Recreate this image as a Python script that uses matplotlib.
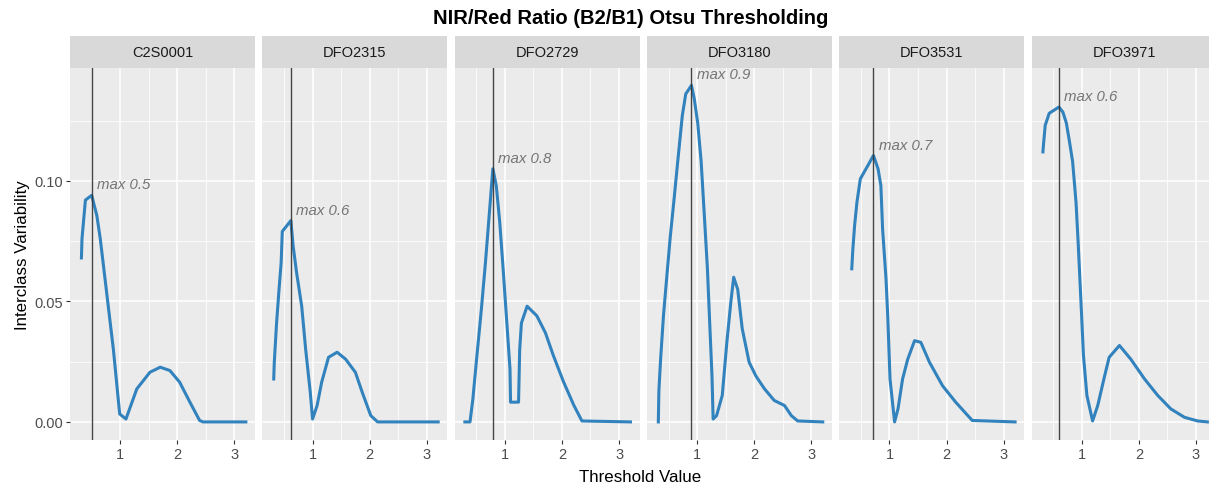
import matplotlib
matplotlib.use('Agg')
import matplotlib.pyplot as plt
from matplotlib.ticker import FixedLocator

plt.rcParams['font.family'] = ['Liberation Sans', 'DejaVu Sans']

sites = ["C2S0001", "DFO2315", "DFO2729", "DFO3180", "DFO3531", "DFO3971"]
thresholds = [0.50, 0.62, 0.79, 0.90, 0.72, 0.60]

x_c2s0001 = [0.32, 0.33, 0.36, 0.39, 0.50, 0.59, 0.65, 0.77, 0.88, 0.99, 1.10, 1.29, 1.52,
             1.70, 1.87, 2.04, 2.22, 2.39, 2.45, 3.20]
y_c2s0001 = [0.068, 0.076, 0.084, 0.092, 0.094, 0.0856, 0.076, 0.052, 0.030, 0.0033, 0.0012,
             0.0137, 0.0206, 0.0227, 0.0213, 0.0165, 0.0082, 0.0006, 0.0, 0.0]

x_dfo2315 = [0.32, 0.33, 0.37, 0.41, 0.45, 0.47, 0.62, 0.66, 0.72, 0.81, 0.88, 0.96, 1.00,
             1.08, 1.16, 1.28, 1.43, 1.58, 1.75, 1.87, 2.02, 2.14, 3.20]
y_dfo2315 = [0.0178, 0.0248, 0.041, 0.054, 0.066, 0.079, 0.0835, 0.073, 0.062, 0.048, 0.030,
             0.0123, 0.0012, 0.0068, 0.0165, 0.0268, 0.0289, 0.026, 0.0206, 0.0123, 0.0026,
             0.0, 0.0]

x_dfo2729 = [0.30, 0.39, 0.44, 0.50, 0.59, 0.66, 0.74, 0.79, 0.85, 0.91, 0.97, 1.03, 1.09,
             1.10, 1.24, 1.26, 1.29, 1.39, 1.56, 1.71, 1.85, 2.03, 2.21, 2.35, 3.20]
y_dfo2729 = [0.0, 0.0, 0.0095, 0.0248, 0.047, 0.066, 0.090, 0.105, 0.098, 0.083, 0.0635,
             0.0427, 0.022, 0.0082, 0.0082, 0.030, 0.041, 0.048, 0.044, 0.037, 0.0275,
             0.0165, 0.0068, 0.0004, 0.0]

x_dfo3180 = [0.32, 0.33, 0.36, 0.41, 0.47, 0.53, 0.59, 0.66, 0.74, 0.80, 0.90, 0.95, 1.01,
             1.07, 1.12, 1.18, 1.22, 1.26, 1.28, 1.34, 1.44, 1.52, 1.59, 1.64, 1.71, 1.79,
             1.91, 2.03, 2.18, 2.35, 2.53, 2.65, 2.76, 3.20]
y_dfo3180 = [0.0, 0.013, 0.026, 0.044, 0.0607, 0.077, 0.091, 0.108, 0.127, 0.136, 0.1396,
             0.134, 0.124, 0.108, 0.088, 0.0635, 0.041, 0.019, 0.0012, 0.0026, 0.011, 0.033,
             0.0497, 0.060, 0.055, 0.0386, 0.0248, 0.019, 0.0137, 0.0089, 0.0068, 0.0026,
             0.0004, 0.0]

x_dfo3531 = [0.34, 0.36, 0.39, 0.43, 0.49, 0.59, 0.72, 0.80, 0.85, 0.88, 0.94, 0.97, 1.01,
             1.09, 1.15, 1.23, 1.32, 1.44, 1.55, 1.70, 1.93, 2.16, 2.45, 3.20]
y_dfo3531 = [0.0635, 0.072, 0.0815, 0.091, 0.1008, 0.105, 0.1105, 0.105, 0.098, 0.080,
             0.0593, 0.044, 0.0178, 0.0, 0.0054, 0.0178, 0.026, 0.0337, 0.033, 0.0248,
             0.015, 0.0082, 0.0006, 0.0]

x_dfo3971 = [0.32, 0.33, 0.36, 0.43, 0.60, 0.67, 0.73, 0.78, 0.84, 0.90, 0.94, 0.99, 1.03,
             1.09, 1.19, 1.28, 1.40, 1.48, 1.66, 1.86, 2.10, 2.33, 2.56, 2.80, 3.03, 3.20]
y_dfo3971 = [0.112, 0.115, 0.123, 0.128, 0.1306, 0.1285, 0.124, 0.117, 0.108, 0.091, 0.073,
             0.048, 0.0275, 0.011, 0.0004, 0.0068, 0.019, 0.0268, 0.0317, 0.026, 0.0178,
             0.011, 0.0054, 0.0019, 0.0004, 0.0]

series_x = [x_c2s0001, x_dfo2315, x_dfo2729, x_dfo3180, x_dfo3531, x_dfo3971]
series_y = [y_c2s0001, y_dfo2315, y_dfo2729, y_dfo3180, y_dfo3531, y_dfo3971]

x_ticks = [1, 2, 3]
y_ticks = [0.00, 0.05, 0.10]
y_tick_labels = ["0.00", "0.05", "0.10"]

W, H = 1209, 489
fig = plt.figure(figsize=(W / 100, H / 100), dpi=100)

panel_left0 = 70.0
panel_pitch = 192.3
panel_w = 185.0
panel_top = 68.5
panel_bottom = 441.0
strip_top = 36.7

line_color = '#3182BD'
tick_col = '#4D4D4D'

for i, site in enumerate(sites):
    left = panel_left0 + i * panel_pitch
    ax = fig.add_axes([left / W, 1 - panel_bottom / H, panel_w / W, (panel_bottom - panel_top) / H])
    ax.set_facecolor('#EBEBEB')
    for s in ax.spines.values():
        s.set_visible(False)
    ax.set_xlim(0.12, 3.36)
    ax.set_ylim(-0.0075, 0.147)
    ax.xaxis.set_major_locator(FixedLocator(x_ticks))
    ax.xaxis.set_minor_locator(FixedLocator([0.5, 1.5, 2.5]))
    ax.yaxis.set_major_locator(FixedLocator(y_ticks))
    ax.yaxis.set_minor_locator(FixedLocator([0.025, 0.075, 0.125]))
    ax.grid(which='major', color='white', linewidth=1.1)
    ax.grid(which='minor', color='white', linewidth=0.55)
    ax.set_axisbelow(True)
    ax.tick_params(axis='both', which='major', length=3, width=0.8, color='#333333',
                   labelsize=10.5, labelcolor=tick_col, pad=2)
    ax.tick_params(axis='both', which='minor', length=0)
    ax.set_xticklabels([str(t) for t in x_ticks])
    if i == 0:
        ax.set_yticklabels(y_tick_labels)
    else:
        ax.tick_params(axis='y', which='major', length=0, labelleft=False)

    xs, ys = series_x[i], series_y[i]
    ax.plot(xs, ys, color=line_color, linewidth=2.2, solid_joinstyle='round', zorder=3)
    ax.axvline(thresholds[i], color='#333333', linewidth=1.0, alpha=0.9, zorder=4)
    ymax = max(ys)
    ax.text(thresholds[i] + 0.09, ymax + 0.0045, f"max {round(thresholds[i], 1)}",
            fontsize=10.8, style='italic', color='#757575', ha='left', va='center', zorder=5)

    sax = fig.add_axes([left / W, 1 - panel_top / H, panel_w / W, (panel_top - strip_top) / H])
    sax.set_facecolor('#D9D9D9')
    sax.set_xticks([])
    sax.set_yticks([])
    for s in sax.spines.values():
        s.set_visible(False)
    sax.text(0.5, 0.5, site, transform=sax.transAxes, ha='center', va='center',
             fontsize=10.5, color='#1A1A1A')

fig.text(631 / W, 1 - 18 / H, "NIR/Red Ratio (B2/B1) Otsu Thresholding", ha='center', va='center',
         fontsize=14.5, fontweight='bold', color='black')
fig.text(640 / W, 1 - 478 / H, "Threshold Value", ha='center', va='center', fontsize=12.2,
         color='black')
fig.text(22 / W, 1 - ((panel_top + panel_bottom) / 2) / H, "Interclass Variability", ha='center',
         va='center', rotation=90, fontsize=12.2, color='black')

fig.savefig('out.png', dpi=100)
